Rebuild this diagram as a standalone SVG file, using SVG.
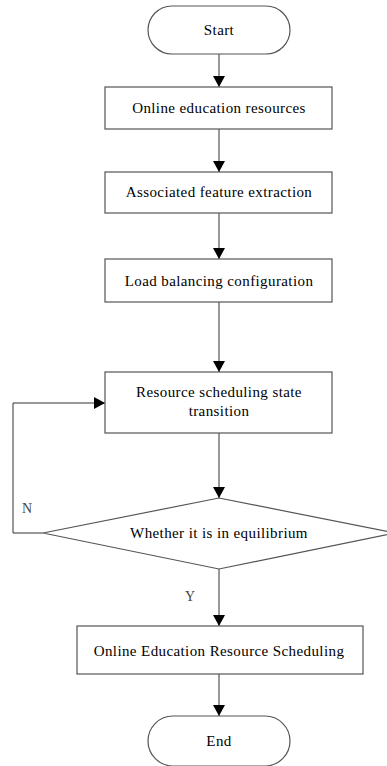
<svg xmlns="http://www.w3.org/2000/svg" width="387" height="766" viewBox="0 0 387 766">
  <defs>
    <marker id="arrow" markerWidth="12" markerHeight="12" refX="11" refY="6" orient="auto" markerUnits="userSpaceOnUse">
      <path d="M0,0 L11,6 L0,12 Z" fill="#000"/>
    </marker>
    <style>
      .shape { fill: #fff; stroke: #555; stroke-width: 1.2; }
      .edge { fill: none; stroke: #333; stroke-width: 1; }
      .label { font-family: "Liberation Serif", "Times New Roman", serif; font-size: 15px; letter-spacing: 0.4px; fill: #000; text-anchor: middle; dominant-baseline: central; }
      .tag { font-family: "Liberation Serif", "Times New Roman", serif; font-size: 14px; fill: #444; text-anchor: middle; dominant-baseline: central; }
    </style>
  </defs>
  <rect width="387" height="766" fill="#fff"/>

  <g id="connectors">
    <line class="edge" x1="219" y1="54" x2="219" y2="87" marker-end="url(#arrow)"/>
    <line class="edge" x1="219" y1="129" x2="219" y2="172" marker-end="url(#arrow)"/>
    <line class="edge" x1="219" y1="213" x2="219" y2="259" marker-end="url(#arrow)"/>
    <line class="edge" x1="219" y1="302" x2="219" y2="372" marker-end="url(#arrow)"/>
    <line class="edge" x1="219" y1="433" x2="219" y2="498" marker-end="url(#arrow)"/>
    <polyline class="edge" points="43,533 13,533 13,403 105,403" marker-end="url(#arrow)"/>
    <line class="edge" x1="219" y1="569" x2="219" y2="626" marker-end="url(#arrow)"/>
    <line class="edge" x1="219" y1="674" x2="219" y2="716" marker-end="url(#arrow)"/>
    <text class="tag" x="27" y="508">N</text>
    <text class="tag" x="190" y="596">Y</text>
  </g>

  <g id="start">
    <rect class="shape" x="148" y="6" width="142" height="48" rx="24" ry="24"/>
    <text class="label" x="219" y="30">Start</text>
  </g>
  <g id="resources">
    <rect class="shape" x="105" y="87" width="227" height="42"/>
    <text class="label" x="219" y="108">Online education resources</text>
  </g>
  <g id="extraction">
    <rect class="shape" x="105" y="172" width="227" height="41"/>
    <text class="label" x="219" y="192">Associated feature extraction</text>
  </g>
  <g id="balancing">
    <rect class="shape" x="105" y="259" width="227" height="43"/>
    <text class="label" x="219" y="281">Load balancing configuration</text>
  </g>
  <g id="transition">
    <rect class="shape" x="105" y="372" width="227" height="61"/>
    <text class="label" x="219" y="392">Resource scheduling state</text>
    <text class="label" x="219" y="411">transition</text>
  </g>
  <g id="equilibrium">
    <polygon class="shape" points="219,498 395,533 219,569 43,533"/>
    <text class="label" x="219" y="533">Whether it is in equilibrium</text>
  </g>
  <g id="scheduling">
    <rect class="shape" x="77" y="626" width="286" height="48"/>
    <text class="label" x="219" y="651">Online Education Resource Scheduling</text>
  </g>
  <g id="end">
    <rect class="shape" x="148" y="716" width="142" height="50" rx="25" ry="25"/>
    <text class="label" x="219" y="741">End</text>
  </g>
</svg>
